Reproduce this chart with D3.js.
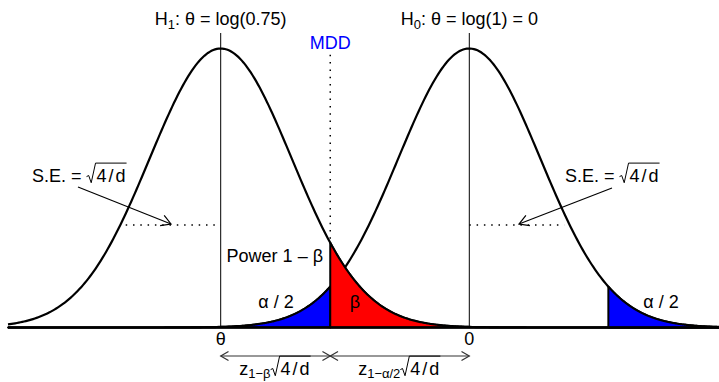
<!DOCTYPE html>
<html><head><meta charset="utf-8">
<script src="https://cdn.jsdelivr.net/npm/d3@7"></script>
<style>
html,body{margin:0;padding:0;background:#fff;}
svg text{font-family:"Liberation Sans",Arial,Helvetica,sans-serif;fill:#000;white-space:pre;}
</style></head>
<body>
<svg id="c" width="719" height="382"></svg>
<script>
// ---- data ----
const hypotheses = ["H1", "H0"];
const means = [Math.log(0.75), 0];          // theta under H1, H0
const se = 0.0821;                           // sqrt(4/d)
const zAlpha = 1.96;                         // z_{1-alpha/2}
const tickLabels = ["\u03B8", "0"];

const theta1 = means[0], theta0 = means[1];
const mdd = theta0 - zAlpha * se;            // minimal detectable difference
const critHi = theta0 + zAlpha * se;

const svg = d3.select("#c");
const W = 719, H = 382;

const x = d3.scaleLinear().domain([theta1, theta0]).range([220.7, 469.3]);
const peak = 1 / (se * Math.sqrt(2 * Math.PI));
const y = d3.scaleLinear().domain([0, peak]).range([327.5, 48.5]);
const dens = (v, m) => Math.exp(-0.5 * ((v - m) / se) ** 2) / (se * Math.sqrt(2 * Math.PI));

const xmin = x.invert(8), xmax = x.invert(722);
const grid = (a, b, n = 400) => d3.range(n + 1).map(i => a + (b - a) * i / n);

const area = m => d3.area().x(d => x(d)).y0(y(0)).y1(d => y(dens(d, m)));
const line = m => d3.line().x(d => x(d)).y(d => y(dens(d, m)));

// center vertical lines
means.forEach(m => {
  svg.append("line").attr("x1", x(m)).attr("x2", x(m)).attr("y1", 33).attr("y2", y(0))
    .attr("stroke", "#000").attr("stroke-width", 1);
});

// curves
means.forEach(m => {
  svg.append("path").datum(grid(xmin, xmax)).attr("d", line(m))
    .attr("fill", "none").attr("stroke", "#000").attr("stroke-width", 2.2);
});

// fills (polygons with black border, drawn over the curves)
const fills = [
  {from: xmin, to: mdd, m: theta0, col: "#0000FF"},
  {from: mdd, to: xmax, m: theta1, col: "#FF0000"},
  {from: critHi, to: xmax, m: theta0, col: "#0000FF"}
];
fills.forEach(f => {
  svg.append("path").datum(grid(f.from, f.to)).attr("d", area(f.m))
    .attr("fill", f.col).attr("stroke", "#000").attr("stroke-width", 2).attr("stroke-linejoin", "round");
});

// baseline
svg.append("line").attr("x1", 8).attr("x2", W).attr("y1", y(0)).attr("y2", y(0))
  .attr("stroke", "#000").attr("stroke-width", 2.5);

// MDD dotted line
svg.append("line").attr("x1", x(mdd)).attr("x2", x(mdd)).attr("y1", y(dens(mdd, theta1)) - 4).attr("y2", 54)
  .attr("stroke", "#000").attr("stroke-width", 1.5).attr("stroke-dasharray", "1.5,5.8");

// SE dotted lines
const seY = 225;
svg.append("line").attr("x1", x(theta1) - 95).attr("x2", x(theta1)).attr("y1", seY).attr("y2", seY)
  .attr("stroke", "#000").attr("stroke-width", 1.5).attr("stroke-dasharray", "1.5,5.8");
svg.append("line").attr("x1", x(theta0)).attr("x2", x(theta0) + 95).attr("y1", seY).attr("y2", seY)
  .attr("stroke", "#000").attr("stroke-width", 1.5).attr("stroke-dasharray", "1.5,5.8");

// arrows
function arrow(x1, y1, x2, y2, both, color, len) {
  const g = svg.append("g").attr("stroke", color).attr("stroke-width", 1.2).attr("fill", "none");
  g.append("line").attr("x1", x1).attr("y1", y1).attr("x2", x2).attr("y2", y2);
  const head = (ax, ay, bx, by) => {
    const ang = Math.atan2(by - ay, bx - ax), a = Math.PI / 6;
    const p1 = [bx - len * Math.cos(ang - a), by - len * Math.sin(ang - a)];
    const p2 = [bx - len * Math.cos(ang + a), by - len * Math.sin(ang + a)];
    g.append("path").attr("d", `M${p1}L${bx},${by}L${p2}`);
  };
  head(x1, y1, x2, y2);
  if (both) head(x2, y2, x1, y1);
}
arrow(78, 187, 171, 224, false, "#000", 11);
arrow(612, 188, 519, 224, false, "#000", 11);
arrow(x(theta1), 356, x(mdd), 356, true, "#333", 9);
arrow(x(mdd), 356, x(theta0), 356, true, "#333", 9);

// math label helper
function mathLabel(x0, y0, pieces, anchor) {
  const g = svg.append("g");
  let cx = 0;
  pieces.forEach(p => {
    const fs = p.size || 18;
    if (p.sqrt) {
      const rw = 0.5 * fs;
      const t = g.append("text").attr("x", cx + rw + 1).attr("y", 0)
        .style("font-size", fs + "px").style("letter-spacing", "2px").text(p.sqrt);
      const w = t.node().getComputedTextLength();
      const top = -1.05 * fs;
      g.append("path").attr("d",
        `M${cx},${-0.3 * fs}L${cx + 0.12 * fs},${-0.36 * fs}L${cx + 0.26 * fs},${0.04 * fs}L${cx + rw},${top}L${cx + rw + w},${top}`)
        .attr("fill", "none").attr("stroke", "#000").attr("stroke-width", 1);
      cx += rw + 1 + w;
    } else {
      const t = g.append("text").attr("x", cx).attr("y", p.dy || 0)
        .style("font-size", fs + "px").text(p.t);
      if (p.color) t.style("fill", p.color);
      cx += t.node().getComputedTextLength();
    }
  });
  const shift = anchor === "middle" ? -cx / 2 : anchor === "end" ? -cx : 0;
  g.attr("transform", `translate(${x0 + shift},${y0})`);
}

// titles
mathLabel(x(theta1), 25, [{t: "H"}, {t: "1", size: 13, dy: 4}, {t: ": \u03B8 = log(0.75)"}], "middle");
mathLabel(x(theta0), 25, [{t: "H"}, {t: "0", size: 13, dy: 4}, {t: ": \u03B8 = log(1) = 0"}], "middle");
mathLabel(x(mdd), 49, [{t: "MDD", color: "#0000FF"}], "middle");

// S.E. labels
mathLabel(32, 182, [{t: "S.E. =\u00A0"}, {sqrt: "4/d"}], "start");
mathLabel(565, 182, [{t: "S.E. =\u00A0"}, {sqrt: "4/d"}], "start");

// region labels
mathLabel(323, 262, [{t: "Power 1 \u2013 \u03B2"}], "end");
mathLabel(276, 308, [{t: "\u03B1 / 2"}], "middle");
mathLabel(355, 308, [{t: "\u03B2"}], "middle");
mathLabel(661, 308, [{t: "\u03B1 / 2"}], "middle");

// tick labels
means.forEach((m, i) => mathLabel(x(m), 345, [{t: tickLabels[i]}], "middle"));

// bottom distance labels
mathLabel((x(theta1) + x(mdd)) / 2, 375, [{t: "z"}, {t: "1\u2212\u03B2", size: 13, dy: 3}, {sqrt: "4/d"}], "middle");
mathLabel((x(mdd) + x(theta0)) / 2, 375, [{t: "z"}, {t: "1\u2212\u03B1/2", size: 13, dy: 3}, {sqrt: "4/d"}], "middle");
</script>
</body></html>
